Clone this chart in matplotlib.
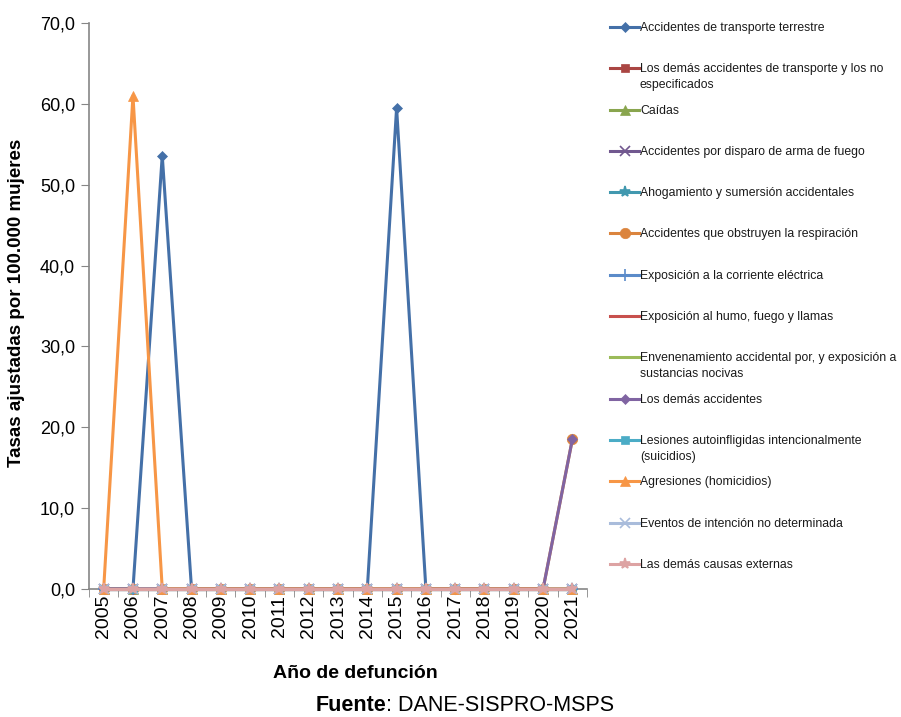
import matplotlib
matplotlib.use('Agg')
import matplotlib.pyplot as plt
from matplotlib.lines import Line2D
from matplotlib.ticker import FuncFormatter, FixedLocator

years = [str(y) for y in range(2005, 2022)]

# series values (tasas ajustadas por 100.000 mujeres)
transporte_terrestre = [0, 0, 53.6, 0, 0, 0, 0, 0, 0, 0, 59.5, 0, 0, 0, 0, 0, 0]
demas_transporte = [0] * 17
caidas = [0] * 17
arma_fuego = [0] * 17
ahogamiento = [0] * 17
obstruyen = [0] * 16 + [18.5]
corriente = [0] * 17
humo = [0] * 17
envenenamiento = [0] * 17
demas_accidentes = [0] * 16 + [18.5]
suicidios = [0] * 17
homicidios = [0, 61.0, 0, 0, 0, 0, 0, 0, 0, 0, 0, 0, 0, 0, 0, 0, 0]
indeterminada = [0] * 17
demas_causas = [0] * 17

labels = ['Accidentes de transporte terrestre',
          'Los demás accidentes de transporte y los no\nespecificados',
          'Caídas',
          'Accidentes por disparo de arma de fuego',
          'Ahogamiento y sumersión accidentales',
          'Accidentes que obstruyen la respiración',
          'Exposición a la corriente eléctrica',
          'Exposición al humo, fuego y llamas',
          'Envenenamiento accidental por, y exposición a\nsustancias nocivas',
          'Los demás accidentes',
          'Lesiones autoinfligidas intencionalmente\n(suicidios)',
          'Agresiones (homicidios)',
          'Eventos de intención no determinada',
          'Las demás causas externas']
series = [transporte_terrestre, demas_transporte, caidas, arma_fuego, ahogamiento,
          obstruyen, corriente, humo, envenenamiento, demas_accidentes, suicidios,
          homicidios, indeterminada, demas_causas]

colors = ['#4470A8', '#AA4643', '#89A54E', '#71588F', '#4198AF', '#DB843D',
          '#5B8BC9', '#C8504D', '#9BBB59', '#8064A2', '#4BACC6', '#F79646',
          '#A9BCDB', '#DDA3A3']
markers = ['D', 's', '^', 'x', '*', 'o', '+', None, None, 'D', 's', '^', 'x', '*']
msizes = [5, 6, 7, 7, 8, 7.5, 8, 0, 0, 5, 6, 7, 7, 8]

plt.rcParams['font.family'] = ['Liberation Sans', 'DejaVu Sans']

fig = plt.figure(figsize=(9.01, 7.17), dpi=100)
ax = fig.add_axes([0.0988, 0.1785, 0.5527, 0.7895])

x = list(range(len(years)))
for vals, c, m, ms in zip(series, colors, markers, msizes):
    ax.plot(x, vals, color=c, lw=2.2, marker=m, markersize=ms,
            markeredgewidth=1.2 if m in ('x', '+', '*') else 0.5, markeredgecolor=c,
            clip_on=False, zorder=3)

ax.set_xlim(-0.5, len(years) - 0.5)
ax.set_ylim(0, 70)
ax.yaxis.set_major_locator(FixedLocator(range(0, 71, 10)))
ax.yaxis.set_major_formatter(FuncFormatter(lambda v, p: f'{v:.1f}'.replace('.', ',')))
ax.set_xticks(x)
ax.set_xticklabels(years, rotation=90, fontsize=14)
ax.set_xticks([i - 0.5 for i in range(len(years) + 1)], minor=True)
ax.tick_params(axis='x', which='major', length=0, pad=4)
ax.tick_params(axis='x', which='minor', length=6, color='#868686', direction='out')
ax.tick_params(axis='y', length=6, color='#868686', labelsize=13, pad=4)
for s in ['top', 'right']:
    ax.spines[s].set_visible(False)
for s in ['left', 'bottom']:
    ax.spines[s].set_color('#868686')
    ax.spines[s].set_linewidth(1.2)

ax.set_ylabel('Tasas ajustadas por 100.000 mujeres', fontsize=13.5, fontweight='bold')
ax.yaxis.set_label_coords(-0.128, 0.505)
fig.text(0.394, 0.061, 'Año de defunción', ha='center', va='center', fontsize=14, fontweight='bold')
t1 = fig.text(0.350, 0.016, 'Fuente', ha='left', va='center', fontsize=15.5, fontweight='bold')
ax.annotate(': DANE-SISPRO-MSPS', xy=(1, 0.5), xycoords=t1, ha='left', va='center',
            fontsize=15.5, annotation_clip=False)

# legend drawn at the right, one slot per series
for i, (lab, c, m, ms) in enumerate(zip(labels, colors, markers, msizes)):
    yp = 1 - (27 + 41.3 * i) / 717
    fig.add_artist(Line2D([610 / 901, 639 / 901], [yp, yp], color=c, lw=2.2,
                          transform=fig.transFigure))
    if m:
        fig.add_artist(Line2D([624.5 / 901], [yp], color=c, marker=m, markersize=ms,
                              markeredgewidth=1.2 if m in ('x', '+', '*') else 0.5,
                              markeredgecolor=c, transform=fig.transFigure))
    fig.text(640 / 901, yp + 5 / 717, lab, ha='left', va='top', fontsize=8.8,
             color='#1a1a1a', linespacing=1.45)

fig.savefig('out.png', dpi=100)
